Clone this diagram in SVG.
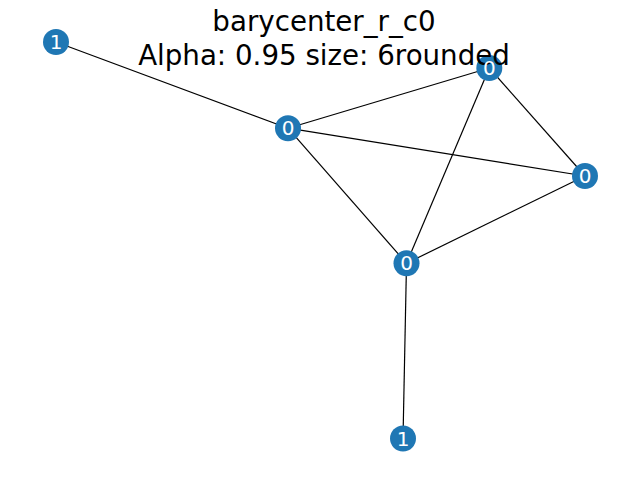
<svg xmlns="http://www.w3.org/2000/svg" width="640" height="480" viewBox="0 0 640 480">
  <style>
    .edge { stroke: #000; stroke-width: 1.2; fill: none; }
    .node circle { fill: #1f77b4; }
    .node text { fill: #fff; font-family: "DejaVu Sans", sans-serif; font-size: 20px; text-anchor: middle; dominant-baseline: central; }
    .title { fill: #000; font-family: "DejaVu Sans", sans-serif; font-size: 27.7px; text-anchor: middle; }
  </style>
  <rect width="640" height="480" fill="#fff"/>
  <g id="edges">
    <line class="edge" x1="56" y1="42" x2="288" y2="128.2"/>
    <line class="edge" x1="288" y1="128.2" x2="489.3" y2="68"/>
    <line class="edge" x1="288" y1="128.2" x2="585" y2="176"/>
    <line class="edge" x1="288" y1="128.2" x2="406.5" y2="263.3"/>
    <line class="edge" x1="489.3" y1="68" x2="585" y2="176"/>
    <line class="edge" x1="489.3" y1="68" x2="406.5" y2="263.3"/>
    <line class="edge" x1="406.5" y1="263.3" x2="585" y2="176"/>
    <line class="edge" x1="406.5" y1="263.3" x2="403" y2="438.5"/>
  </g>
  <g id="n0" class="node"><circle cx="56" cy="42" r="13"/></g>
  <g id="n1" class="node"><circle cx="288" cy="128.2" r="13"/></g>
  <g id="n2" class="node"><circle cx="489.3" cy="68" r="13"/></g>
  <g id="n3" class="node"><circle cx="585" cy="176" r="13"/></g>
  <g id="n4" class="node"><circle cx="406.5" cy="263.3" r="13"/></g>
  <g id="n5" class="node"><circle cx="403" cy="438.5" r="13"/></g>
  <g id="title">
    <text class="title" x="324" y="31">barycenter_r_c0</text>
    <text class="title" x="324" y="65">Alpha: 0.95 size: 6rounded</text>
  </g>
  <g id="labels" class="node">
    <text x="56" y="42">1</text>
    <text x="288" y="128.2">0</text>
    <text x="489.3" y="68">0</text>
    <text x="585" y="176">0</text>
    <text x="406.5" y="263.3">0</text>
    <text x="403" y="438.5">1</text>
  </g>
</svg>
